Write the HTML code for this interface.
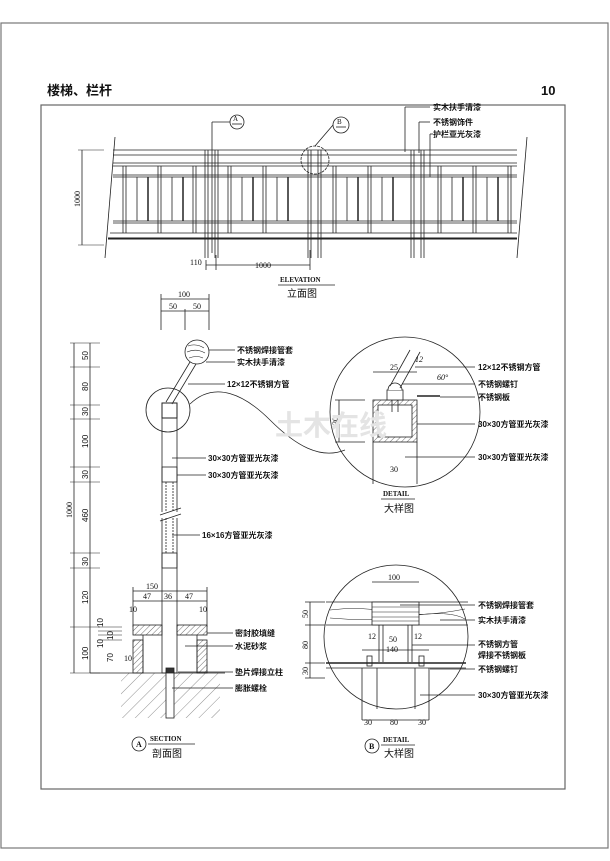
<!DOCTYPE html>
<html><head><meta charset="utf-8"><style>
html,body{margin:0;padding:0;background:#fff}
svg{display:block}
text{font-family:"Liberation Sans","Noto Sans CJK SC",sans-serif;fill:#111}
.l{font-size:8px;font-weight:bold}
.d{font-size:8px;font-family:"Liberation Serif","Noto Serif CJK SC",serif}
</style></head><body>
<svg id="s" width="610" height="861" viewBox="0 0 610 861" xmlns="http://www.w3.org/2000/svg" stroke="#222" fill="none" stroke-width="0.8">
<rect x="1" y="23" width="607" height="825" stroke="#777" stroke-width="1.2"/>
<rect x="41" y="105" width="524" height="684" stroke="#666" stroke-width="1.2"/>
<text x="47" y="95" stroke="none" style="font-size:13px;font-weight:bold">楼梯、栏杆</text>
<text x="541" y="95" stroke="none" style="font-size:13px;font-weight:bold">10</text>

<!-- elevation -->
<g id="elev">
<line x1="113" y1="150" x2="517" y2="150"/><line x1="113" y1="155" x2="517" y2="155"/>
<line x1="113" y1="163" x2="517" y2="163"/><line x1="113" y1="166" x2="517" y2="166"/>
<line x1="113" y1="175" x2="517" y2="175"/><line x1="113" y1="177" x2="517" y2="177"/>
<line x1="113" y1="221" x2="517" y2="221"/><line x1="113" y1="223" x2="517" y2="223"/>
<line x1="110" y1="233" x2="517" y2="233"/>
<line x1="108" y1="238.5" x2="517" y2="238.5" stroke-width="2"/>
<line x1="115" y1="137" x2="105" y2="258"/><line x1="527" y1="137" x2="517" y2="258"/>
</g>
<line x1="82" y1="150" x2="82" y2="245"/><line x1="78" y1="150" x2="104" y2="150" stroke-width="0.5"/><line x1="78" y1="245" x2="104" y2="245" stroke-width="0.5"/>
<text class="d" stroke="none" transform="translate(80,207) rotate(-90)">1000</text>
<line x1="212" y1="122" x2="212" y2="253"/><line x1="212" y1="122" x2="230" y2="122"/>
<circle cx="237" cy="122" r="7"/><text class="d" x="233" y="121" stroke="none" style="font-size:7px">A</text><line x1="232" y1="124" x2="242" y2="124"/>
<circle cx="341" cy="125" r="8"/><text class="d" x="337" y="124" stroke="none" style="font-size:7px">B</text><line x1="336" y1="127" x2="346" y2="127"/>
<line x1="333" y1="125" x2="315" y2="146"/>
<circle cx="315" cy="160" r="14" stroke-dasharray="3,1"/>
<line x1="405" y1="107" x2="405" y2="152"/><line x1="405" y1="107" x2="430" y2="107"/>
<line x1="419" y1="122" x2="419" y2="153"/><line x1="419" y1="122" x2="430" y2="122"/>
<line x1="430" y1="134" x2="430" y2="177"/><line x1="430" y1="134" x2="433" y2="134"/>
<text class="l" x="433" y="110" stroke="none">实木扶手清漆</text>
<text class="l" x="433" y="125" stroke="none">不锈钢饰件</text>
<text class="l" x="433" y="137" stroke="none">护栏亚光灰漆</text>
<line x1="206" y1="265" x2="310" y2="265"/><line x1="206" y1="260" x2="206" y2="270"/><line x1="216" y1="255" x2="216" y2="270"/><line x1="310" y1="250" x2="310" y2="270"/>
<text class="d" x="190" y="265" stroke="none">110</text><text class="d" x="255" y="268" stroke="none">1000</text>
<text class="d" x="280" y="282" stroke="none" style="font-size:7px;font-weight:bold">ELEVATION</text>
<line x1="278" y1="285" x2="335" y2="285"/>
<text x="287" y="297" stroke="none" style="font-size:10px">立面图</text>

<!-- section -->
<line x1="161" y1="299" x2="209" y2="299"/><line x1="161" y1="311" x2="209" y2="311"/>
<line x1="161" y1="294" x2="161" y2="330"/><line x1="209" y1="294" x2="209" y2="330"/><line x1="185" y1="309" x2="185" y2="330"/>
<text class="d" x="178" y="297" stroke="none">100</text><text class="d" x="169" y="309" stroke="none">50</text><text class="d" x="193" y="309" stroke="none">50</text>
<line x1="74" y1="343" x2="74" y2="673"/><line x1="90" y1="343" x2="90" y2="673"/>
<g id="ticks"></g>
<text class="d" stroke="none" transform="translate(72,518) rotate(-90)">1000</text>
<g class="d" stroke="none" font-size="8">
<text transform="translate(88,360) rotate(-90)">50</text>
<text transform="translate(88,391) rotate(-90)">80</text>
<text transform="translate(88,416) rotate(-90)">30</text>
<text transform="translate(88,448) rotate(-90)">100</text>
<text transform="translate(88,479) rotate(-90)">30</text>
<text transform="translate(88,522) rotate(-90)">460</text>
<text transform="translate(88,566) rotate(-90)">30</text>
<text transform="translate(88,604) rotate(-90)">120</text>
<text transform="translate(88,660) rotate(-90)">100</text>
<text transform="translate(103,627) rotate(-90)">10</text>
<text transform="translate(113,640) rotate(-90)">10</text>
<text transform="translate(103,648) rotate(-90)">10</text>
<text transform="translate(113,662) rotate(-90)">70</text>
</g>
<!-- handrail -->
<circle cx="197" cy="352" r="12"/>
<path d="M188 346 q8 -3 16 2 M187 352 q9 -4 18 1 M189 358 q8 -3 14 0" stroke-width="0.6"/>
<line x1="190" y1="362" x2="166" y2="402"/><line x1="196" y1="364" x2="172" y2="404"/>
<circle cx="168" cy="410" r="22"/>
<path d="M190 404 C215 380 245 395 270 420 S 320 460 345 450" stroke-width="0.7"/>
<rect x="162" y="403" width="15" height="270"/>
<rect x="162" y="403" width="15" height="15" stroke-width="1"/>
<rect x="162" y="467" width="15" height="15"/>
<rect x="162" y="553" width="15" height="15"/>
<line x1="166" y1="482" x2="166" y2="553" stroke-dasharray="2,1"/><line x1="173" y1="482" x2="173" y2="553" stroke-dasharray="2,1"/>
<rect x="159" y="512" width="22" height="6" fill="#fff" stroke="none"/>
<line x1="160" y1="515" x2="181" y2="508"/><line x1="160" y1="521" x2="181" y2="514"/>
<line x1="133" y1="591" x2="207" y2="591"/><line x1="133" y1="601" x2="207" y2="601"/>
<line x1="133" y1="587" x2="133" y2="627"/><line x1="207" y1="587" x2="207" y2="627"/>
<text class="d" x="146" y="589" stroke="none">150</text><text class="d" x="143" y="599" stroke="none">47</text><text class="d" x="164" y="599" stroke="none">36</text><text class="d" x="185" y="599" stroke="none">47</text>
<text class="d" x="129" y="612" stroke="none">10</text><text class="d" x="199" y="612" stroke="none">10</text>
<defs><pattern id="h" width="4" height="4" patternUnits="userSpaceOnUse" patternTransform="rotate(45)"><line x1="0" y1="0" x2="0" y2="4" stroke="#333" stroke-width="0.7"/></pattern>
<pattern id="g" width="9" height="9" patternUnits="userSpaceOnUse" patternTransform="rotate(45)"><line x1="0" y1="0" x2="0" y2="9" stroke="#444" stroke-width="0.6"/></pattern></defs>
<rect x="133" y="625" width="29" height="10" fill="url(#h)"/><rect x="177" y="625" width="30" height="10" fill="url(#h)"/>
<rect x="133" y="640" width="10" height="33" fill="url(#h)"/><rect x="197" y="640" width="10" height="33" fill="url(#h)"/>
<line x1="143" y1="635" x2="143" y2="673"/><line x1="197" y1="635" x2="197" y2="673"/>
<rect x="121" y="673" width="99" height="45" fill="url(#g)" stroke="none"/>
<line x1="90" y1="673" x2="225" y2="673"/>
<rect x="166" y="672" width="8" height="46" fill="#fff"/><rect x="166" y="668" width="8" height="5" fill="#333"/>
<text class="d" x="124" y="661" stroke="none">10</text>
<g class="l" stroke="none">
<text x="237" y="353">不锈钢焊接管套</text><text x="237" y="365">实木扶手清漆</text>
<text x="227" y="387">12×12不锈钢方管</text>
<text x="208" y="461">30×30方管亚光灰漆</text><text x="208" y="478">30×30方管亚光灰漆</text>
<text x="202" y="538">16×16方管亚光灰漆</text>
<text x="235" y="636">密封胶填缝</text><text x="235" y="649">水泥砂浆</text>
<text x="235" y="675">垫片焊接立柱</text><text x="235" y="691">膨胀螺栓</text>
</g>
<line x1="209" y1="350" x2="235" y2="350"/><line x1="206" y1="362" x2="235" y2="362"/><line x1="188" y1="384" x2="225" y2="384"/>
<line x1="172" y1="458" x2="206" y2="458"/><line x1="177" y1="475" x2="206" y2="475"/><line x1="172" y1="535" x2="200" y2="535"/>
<line x1="207" y1="633" x2="233" y2="633"/><line x1="185" y1="646" x2="233" y2="646"/><line x1="178" y1="672" x2="233" y2="672"/><line x1="172" y1="688" x2="233" y2="688"/>
<circle cx="139" cy="744" r="7"/><text class="d" x="136" y="747" stroke="none" style="font-weight:bold">A</text>
<text class="d" x="150" y="741" stroke="none" style="font-size:7px;font-weight:bold">SECTION</text>
<line x1="148" y1="744" x2="195" y2="744"/>
<text x="152" y="757" stroke="none" style="font-size:10px">剖面图</text>

<!-- detail A -->
<circle cx="405" cy="412" r="75"/>
<rect x="373" y="400" width="44" height="42" fill="url(#h)"/>
<rect x="378" y="405" width="34" height="32" fill="#fff"/>
<line x1="373" y1="442" x2="373" y2="484"/><line x1="417" y1="442" x2="417" y2="484"/>
<rect x="387" y="390" width="16" height="10" fill="#fff"/><path d="M388 390 a7 7 0 0 1 14 0" fill="#fff"/>
<line x1="392" y1="400" x2="392" y2="412"/><line x1="398" y1="400" x2="398" y2="412"/>
<line x1="390" y1="386" x2="410" y2="350"/><line x1="400" y1="388" x2="420" y2="352"/>
<line x1="417" y1="396" x2="440" y2="396" stroke-width="1.4"/>
<line x1="373" y1="372" x2="417" y2="372"/><text class="d" x="390" y="370" stroke="none">25</text>
<text class="d" x="415" y="362" stroke="none" style="font-style:italic">12</text><text class="d" x="437" y="380" stroke="none" style="font-style:italic">60°</text>
<line x1="339" y1="400" x2="339" y2="442"/><line x1="335" y1="400" x2="365" y2="400"/><line x1="335" y1="442" x2="365" y2="442"/>
<text class="d" stroke="none" transform="translate(338,425) rotate(-90)">30</text>
<text class="d" x="390" y="472" stroke="none">30</text>
<g class="l" stroke="none"><text x="478" y="370">12×12不锈钢方管</text><text x="478" y="387">不锈钢螺钉</text><text x="478" y="400">不锈钢板</text><text x="478" y="427">30×30方管亚光灰漆</text><text x="478" y="460">30×30方管亚光灰漆</text></g>
<line x1="415" y1="367" x2="475" y2="367"/><line x1="402" y1="384" x2="475" y2="384"/><line x1="440" y1="397" x2="475" y2="397"/><line x1="417" y1="424" x2="475" y2="424"/><line x1="405" y1="457" x2="475" y2="457"/>
<text class="d" x="383" y="496" stroke="none" style="font-size:7px;font-weight:bold">DETAIL</text><line x1="381" y1="499" x2="415" y2="499"/>
<text x="384" y="512" stroke="none" style="font-size:10px">大样图</text>
<text x="275" y="435" stroke="none" style="font-size:28px;font-weight:bold;fill:#e4e4e4">土木在线</text>

<!-- detail B -->
<circle cx="396" cy="637" r="72"/>
<line x1="326" y1="602" x2="468" y2="602"/><line x1="326" y1="625" x2="468" y2="625"/>
<path d="M330 610 q30 -4 60 2 t75 -3 M330 618 q40 4 80 -2 t55 3" stroke-width="0.5"/>
<rect x="372" y="602" width="47" height="23" fill="#fff"/>
<line x1="372" y1="607" x2="419" y2="607" stroke-width="0.5"/><line x1="372" y1="612" x2="419" y2="612" stroke-width="0.5"/><line x1="372" y1="617" x2="419" y2="617" stroke-width="0.5"/><line x1="372" y1="621" x2="419" y2="621" stroke-width="0.5"/>
<line x1="379" y1="625" x2="379" y2="662"/><line x1="383" y1="625" x2="383" y2="662"/><line x1="408" y1="625" x2="408" y2="662"/><line x1="412" y1="625" x2="412" y2="662"/>
<line x1="326" y1="663" x2="466" y2="663" stroke-width="1.6"/><line x1="326" y1="668" x2="466" y2="668"/>
<rect x="367" y="656" width="5" height="10"/><rect x="419" y="656" width="5" height="10"/>
<line x1="362" y1="668" x2="362" y2="720"/><line x1="377" y1="668" x2="377" y2="709"/><line x1="415" y1="668" x2="415" y2="709"/><line x1="429" y1="668" x2="429" y2="720"/>
<line x1="362" y1="720" x2="429" y2="720"/>
<text class="d" x="364" y="725" stroke="none">30</text><text class="d" x="390" y="725" stroke="none">80</text><text class="d" x="418" y="725" stroke="none">30</text>
<line x1="372" y1="582" x2="419" y2="582"/><text class="d" x="388" y="580" stroke="none">100</text>
<text class="d" x="368" y="639" stroke="none">12</text><text class="d" x="389" y="642" stroke="none">50</text><text class="d" x="414" y="639" stroke="none">12</text>
<line x1="362" y1="650" x2="429" y2="650"/><text class="d" x="386" y="652" stroke="none">140</text>
<line x1="310" y1="602" x2="310" y2="678"/>
<line x1="305" y1="602" x2="325" y2="602"/><line x1="305" y1="625" x2="325" y2="625"/><line x1="305" y1="663" x2="325" y2="663"/><line x1="305" y1="678" x2="325" y2="678"/>
<text class="d" stroke="none" transform="translate(308,618) rotate(-90)">50</text>
<text class="d" stroke="none" transform="translate(308,649) rotate(-90)">80</text>
<text class="d" stroke="none" transform="translate(308,675) rotate(-90)">30</text>
<g class="l" stroke="none"><text x="478" y="608">不锈钢焊接管套</text><text x="478" y="623">实木扶手清漆</text><text x="478" y="647">不锈钢方管</text><text x="478" y="658">焊接不锈钢板</text><text x="478" y="672">不锈钢螺钉</text><text x="478" y="698">30×30方管亚光灰漆</text></g>
<line x1="400" y1="605" x2="475" y2="605"/><line x1="440" y1="620" x2="475" y2="620"/><line x1="412" y1="645" x2="475" y2="645"/><line x1="430" y1="669" x2="475" y2="669"/><line x1="420" y1="695" x2="475" y2="695"/>
<circle cx="372" cy="746" r="7"/><text class="d" x="369" y="749" stroke="none" style="font-weight:bold">B</text>
<text class="d" x="383" y="742" stroke="none" style="font-size:7px;font-weight:bold">DETAIL</text><line x1="381" y1="745" x2="415" y2="745"/>
<text x="384" y="757" stroke="none" style="font-size:10px">大样图</text>
</svg>
<script>
var NS="http://www.w3.org/2000/svg",e=document.getElementById("elev"),t=document.getElementById("ticks");
function L(g,a,b,c,d,w){var l=document.createElementNS(NS,"line");l.setAttribute("x1",a);l.setAttribute("y1",b);l.setAttribute("x2",c);l.setAttribute("y2",d);if(w)l.setAttribute("stroke-width",w);g.appendChild(l);}
var posts=[205,308,411];
posts.forEach(function(p){[p,p+3,p+10,p+13].forEach(function(x){L(e,x,150,x,258);});});
for(var x=123;x<517;x+=35){if(posts.some(function(p){return Math.abs(x-p)<12||Math.abs(x-p-10)<8}))continue;L(e,x,166,x,233);L(e,x+3,166,x+3,233);}
for(var x=137;x<510;x+=35){var ok=!posts.some(function(p){return x>p-8&&x<p+20});if(ok){L(e,x,177,x,221);L(e,x+11,177,x+11,221,1.5);}}
[343,367,405,419,467,482,553,568,627,673].forEach(function(y){L(t,70,y,100,y,0.5);});
[627,631,635,640].forEach(function(y){L(t,98,y,122,y,0.5);});
</script>
</body></html>
